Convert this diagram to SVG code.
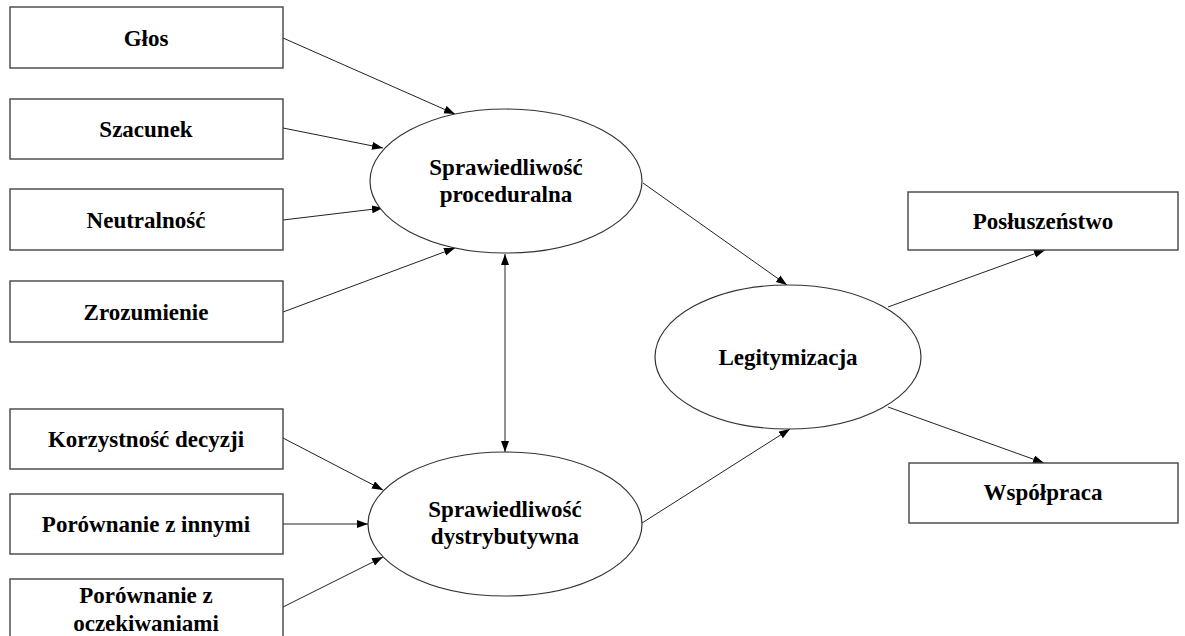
<svg xmlns="http://www.w3.org/2000/svg" width="1185" height="636" viewBox="0 0 1185 636">
<style>
.box{fill:#fff;stroke:#444;stroke-width:1.4}
.ell{fill:#fff;stroke:#333;stroke-width:1.2}
.t{font-weight:bold;font-size:23px;fill:#000;text-anchor:middle}
.c{stroke:#222;stroke-width:1;fill:none;marker-end:url(#ah)}
</style>
<defs>
<marker id="ah" markerUnits="userSpaceOnUse" markerWidth="12" markerHeight="10" refX="11" refY="4" orient="auto">
<path d="M0,0 L11,4 L0,8 Z" fill="#000"/>
</marker>
<marker id="as" markerUnits="userSpaceOnUse" markerWidth="12" markerHeight="10" refX="0" refY="4" orient="auto">
<path d="M11,0 L0,4 L11,8 Z" fill="#000"/>
</marker>
</defs>
<g id="connectors">
<line class="c" x1="283" y1="38" x2="455" y2="114"/>
<line class="c" x1="283" y1="128" x2="383" y2="148"/>
<line class="c" x1="283" y1="220" x2="383" y2="208"/>
<line class="c" x1="283" y1="312" x2="455" y2="248"/>
<line class="c" x1="505" y1="254" x2="505" y2="452" marker-start="url(#as)"/>
<line class="c" x1="283" y1="438" x2="383" y2="490"/>
<line class="c" x1="283" y1="524" x2="368" y2="524"/>
<line class="c" x1="283" y1="607" x2="383" y2="557"/>
<line class="c" x1="643" y1="183" x2="787" y2="285"/>
<line class="c" x1="642" y1="523" x2="790" y2="429"/>
<line class="c" x1="888" y1="307" x2="1045" y2="250"/>
<line class="c" x1="888" y1="407" x2="1044" y2="463"/>
</g>
<g font-family="'Liberation Serif', 'DejaVu Serif', serif">
<g id="glos"><rect class="box" x="10" y="7" width="273" height="61"/><text class="t" x="146" y="46">Głos</text></g>
<g id="szacunek"><rect class="box" x="10" y="99" width="273" height="60"/><text class="t" x="146" y="137">Szacunek</text></g>
<g id="neutralnosc"><rect class="box" x="10" y="189" width="273" height="61"/><text class="t" x="146" y="228">Neutralność</text></g>
<g id="zrozumienie"><rect class="box" x="10" y="281" width="273" height="61"/><text class="t" x="146" y="320">Zrozumienie</text></g>
<g id="korzystnosc"><rect class="box" x="10" y="409" width="273" height="60"/><text class="t" x="146" y="447">Korzystność decyzji</text></g>
<g id="porownanie-innymi"><rect class="box" x="10" y="494" width="273" height="60"/><text class="t" x="146" y="532">Porównanie z innymi</text></g>
<g id="porownanie-oczek"><rect class="box" x="10" y="579" width="273" height="70"/><text class="t" x="146" y="603">Porównanie z</text><text class="t" x="146" y="631">oczekiwaniami</text></g>
<g id="proceduralna"><ellipse class="ell" cx="506" cy="181" rx="136" ry="72"/><text class="t" x="506" y="175">Sprawiedliwość</text><text class="t" x="506" y="202">proceduralna</text></g>
<g id="dystrybutywna"><ellipse class="ell" cx="505" cy="524" rx="137" ry="72"/><text class="t" x="505" y="517">Sprawiedliwość</text><text class="t" x="505" y="544">dystrybutywna</text></g>
<g id="legitymizacja"><ellipse class="ell" cx="788" cy="357" rx="133" ry="72"/><text class="t" x="788" y="365">Legitymizacja</text></g>
<g id="posluszenstwo"><rect class="box" x="908" y="192" width="270" height="58"/><text class="t" x="1043" y="229">Posłuszeństwo</text></g>
<g id="wspolpraca"><rect class="box" x="909" y="463" width="269" height="60"/><text class="t" x="1043" y="500">Współpraca</text></g>
</g>
</svg>
